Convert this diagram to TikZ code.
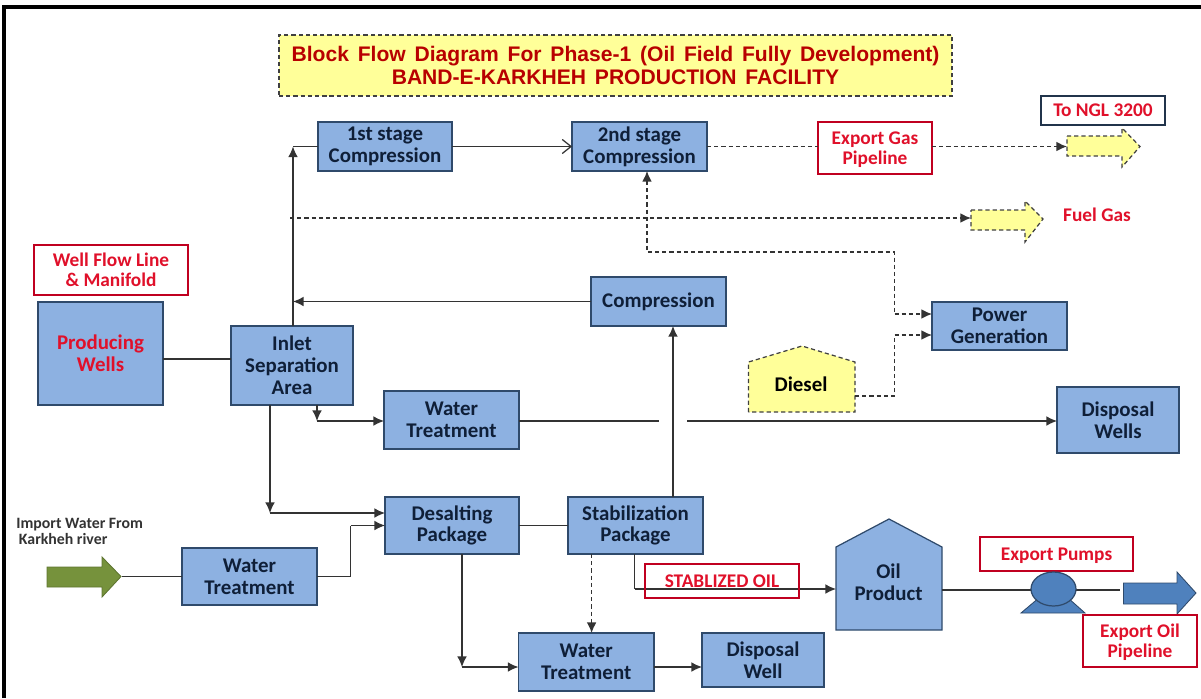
\documentclass[tikz,border=0pt]{standalone}
\usepackage{fontspec}
\setmainfont{Carlito}
\newfontfamily\titlefont[WordSpace=1.5]{Liberation Sans}
\usetikzlibrary{arrows.meta}
\definecolor{blockblue}{HTML}{8DB1E1}
\definecolor{blockedge}{HTML}{2F4A6B}
\definecolor{blocktext}{HTML}{0F1F38}
\definecolor{tagred}{HTML}{C00020}
\definecolor{textred}{HTML}{E0102A}
\definecolor{titlered}{HTML}{B80000}
\definecolor{paleyellow}{HTML}{FFFF99}
\definecolor{riverpipe}{HTML}{76923C}
\definecolor{pumpblue}{HTML}{4F81BD}
\tikzset{
  blockbox/.style={draw=blockedge,fill=blockblue,line width=.7pt,outer sep=0pt,inner sep=0pt,align=center,
    text=blocktext,font=\fontsize{11.9}{12.4}\selectfont\bfseries},
  tagbox/.style={draw=tagred,fill=white,line width=1.1pt,outer sep=0pt,inner sep=0pt,align=center,text depth=0pt,
    text=textred,font=\fontsize{11}{11.2}\selectfont\bfseries},
  flow/.style={line width=.7pt,draw=black!80,>={Latex[length=6pt,width=5.5pt]}},
  dashflow/.style={flow,line width=.8pt,dash pattern=on 2.4pt off 1.7pt},
  yellowpath/.style={draw=black!75,fill=paleyellow,line width=.7pt,dash pattern=on 2.4pt off 1.7pt},
}
\begin{document}
\begin{tikzpicture}[x=.02cm,y=-.02cm]
\useasboundingbox (0,0) rectangle (1201,698);
\draw[line width=1.8pt] (4,698) -- (4,7) -- (1201,7);
% title
\node[yellowpath,minimum width=13.46cm,minimum height=1.22cm,align=center,outer sep=0pt,inner sep=0pt,
  text=titlered,font=\titlefont\fontsize{12}{12.6}\selectfont\bfseries] (title) at (615.5,65.5)
  {Block Flow Diagram For Phase-1 (Oil Field Fully Development)\\BAND-E-KARKHEH PRODUCTION FACILITY};
% blocks
\node[blockbox,minimum width=2.68cm,minimum height=.98cm] (stageone) at (385,146.5) {1st stage\\Compression};
\node[blockbox,minimum width=2.7cm,minimum height=.98cm] (stagetwo) at (639.5,146.5) {2nd stage\\Compression};
\node[blockbox,minimum width=2.7cm,minimum height=.98cm] (comp) at (658.5,301.5) {Compression};
\node[blockbox,minimum width=2.7cm,minimum height=.96cm] (power) at (999.5,326) {Power\\Generation};
\node[blockbox,minimum width=2.5cm,minimum height=2.06cm,text=textred] (wells) at (100.5,353.5) {Producing\\Wells};
\node[blockbox,minimum width=2.44cm,minimum height=1.58cm] (inlet) at (292,365.5) {Inlet\\Separation\\Area};
\node[blockbox,minimum width=2.7cm,minimum height=1.16cm] (wtone) at (451.5,420) {Water\\Treatment};
\node[blockbox,minimum width=2.44cm,minimum height=1.32cm] (disposals) at (1118,420) {Disposal\\Wells};
\node[blockbox,minimum width=2.68cm,minimum height=1.14cm] (desalt) at (452,525.5) {Desalting\\Package};
\node[blockbox,minimum width=2.7cm,minimum height=1.14cm] (stabil) at (635.5,525.5) {Stabilization\\Package};
\node[blockbox,minimum width=2.7cm,minimum height=1.14cm] (wttwo) at (249.5,576.5) {Water\\Treatment};
\node[blockbox,minimum width=2.71cm,minimum height=1.16cm] (wtthree) at (586.2,662) {Water\\Treatment};
\node[blockbox,minimum width=2.44cm,minimum height=1.08cm] (disposal) at (763,660) {Disposal\\Well};
% tanks
\draw[yellowpath] (748.5,412) -- (748.5,362) -- (802,346) -- (855,362) -- (855,412) -- cycle;
\node[text=black,font=\fontsize{11.9}{12.4}\selectfont\bfseries] (diesel) at (801,384) {Diesel};
\draw[draw=blockedge,fill=blockblue,line width=.7pt] (836,630) -- (836,547) -- (889,519) -- (942,547) -- (942,630) -- cycle;
\node[align=center,text=blocktext,font=\fontsize{11.9}{12.4}\selectfont\bfseries] (oil) at (888.5,582) {Oil\\Product};
% block arrows
\draw[yellowpath] (1067,136) -- (1122,136) -- (1122,128) -- (1140,146.5) -- (1122,167) -- (1122,156) -- (1067,156) -- cycle;
\draw[yellowpath] (971,210) -- (1025,210) -- (1025,201) -- (1043,219) -- (1025,242) -- (1025,230) -- (971,230) -- cycle;
\draw[draw=riverpipe!80!black,fill=riverpipe,line width=.5pt] (47,567) -- (102,567) -- (102,557) -- (121,576.5) -- (102,597) -- (102,587) -- (47,587) -- cycle;
\draw[draw=blockedge,fill=pumpblue,line width=.5pt] (1123.5,583) -- (1177,583) -- (1177,572) -- (1196,593) -- (1177,614) -- (1177,604) -- (1123.5,604) -- cycle;
% points on the lines
\coordinate(NGL) at (1067,146.5);
\coordinate(FuelS) at (290,218);
\coordinate(FuelE) at (971,218);
\coordinate(RiverE) at (122,576.5);
\coordinate(OilW) at (836,589);
\coordinate(OilE) at (942,590);
\coordinate(PipeW) at (1120,590);
\coordinate(InA) at (293,146.5);
\coordinate(InB) at (293,301.5);
\coordinate(InC) at (317,421);
\coordinate(InD) at (270,513);
\coordinate(DeA) at (462,667);
\coordinate(WtA) at (350.5,525.5);
\coordinate(StA) at (634.5,589);
\coordinate(PoA) at (894.5,252);
\coordinate(PoB) at (647,252);
\coordinate(PoC) at (894.5,314);
\coordinate(DiA) at (855,396);
\coordinate(DiB) at (894.5,335);
\coordinate(GapA) at (659,421);
\coordinate(GapB) at (687,421);
% tags
\node[tagbox,minimum width=2.28cm,minimum height=1.04cm] (gastag) at (875,148) {Export Gas\\Pipeline};
\node[tagbox,draw=blockedge!70!black,line width=.8pt,minimum width=2.48cm,minimum height=.58cm] (ngl) at (1103,110.5) {To NGL 3200};
\node[text=textred,font=\fontsize{11}{12}\selectfont\bfseries] (fuel) at (1097,215) {Fuel Gas};
\node[tagbox,minimum width=3.08cm,minimum height=1cm] (welltag) at (111,270) {Well Flow Line\\\& Manifold};
\node[anchor=north west,align=left,inner sep=0pt,text=black!80,font=\fontsize{9}{8.9}\selectfont\bfseries] (river) at (16,518) {Import Water From\\\hspace*{1.5pt}Karkheh river};
% lines
\draw[flow] (wells.east |- 0,359) -- (inlet.west |- 0,359);
\draw[flow,->] (inlet.north -| InA) -- (InA);
\draw[flow] (InA) -- (InA -| stageone.west);
\draw[flow,-{Straight Barb[length=5pt,width=8pt]}] (stageone.east) -- (stagetwo.west);
\draw[dashflow] (stagetwo.east) -- (stagetwo.east -| gastag.west);
\draw[dashflow,->] (stagetwo.east -| gastag.east) -- (NGL);
\draw[dashflow,->] (FuelS) -- (FuelE);
\draw[flow,->] (comp.west) -- (InB);
\draw[dashflow,<-] (stagetwo.south -| PoB) -- (PoB) -- (PoA) -- (PoC);
\draw[dashflow,->] (PoC) -- (PoC -| power.west);
\draw[dashflow] (DiA) -- (DiA -| DiB) -- (DiB);
\draw[dashflow,->] (DiB) -- (DiB -| power.west);
\draw[flow,->] (inlet.south -| InC) -- (InC);
\draw[flow,->] (InC) -- (InC -| wtone.west);
\draw[flow] (wtone.east |- GapA) -- (GapA);
\draw[flow,->] (GapB) -- (GapB -| disposals.west);
\draw[flow,->] (inlet.south -| InD) -- (InD);
\draw[flow,->] (InD) -- (InD -| desalt.west);
\draw[flow] (RiverE) -- (RiverE -| wttwo.west);
\draw[flow] (wttwo.east) -- (wttwo.east -| WtA) -- (WtA);
\draw[flow,->] (WtA) -- (desalt.west);
\draw[flow] (desalt.east) -- (stabil.west);
\draw[flow,->] (desalt.south -| DeA) -- (DeA);
\draw[flow,->] (DeA) -- (DeA -| wtthree.west);
\draw[dashflow,->] (stabil.south -| 591.6,0) -- (wtthree.north -| 591.6,0);
\draw[flow,->] (stabil.north -| 673,0) -- (comp.south -| 673,0);
\draw[flow] (stabil.south -| StA) -- (StA);
\draw[flow,->] (StA) -- (OilW);
\draw[flow,->] (wtthree.east |- DeA) -- (disposal.west |- DeA);
\draw[flow] (OilE) -- (PipeW);
% tags over the lines
\node[tagbox,fill=none,minimum width=3.08cm,minimum height=.68cm] (oiltag) at (722,581) {STABLIZED OIL};
\node[tagbox,minimum width=3.06cm,minimum height=.68cm] (pumptag) at (1056.5,554) {Export Pumps};
\node[tagbox,minimum width=2.28cm,minimum height=1.04cm] (pipetag) at (1140,641) {Export Oil\\Pipeline};
% pump
\draw[draw=blockedge,fill=pumpblue,line width=.5pt] (1021,613) -- (1040,597) -- (1067,597) -- (1085,613) -- cycle;
\draw[draw=blockedge,fill=pumpblue,line width=.7pt] (1053.5,589) ellipse (22.5 and 17);
\end{tikzpicture}
\end{document}
